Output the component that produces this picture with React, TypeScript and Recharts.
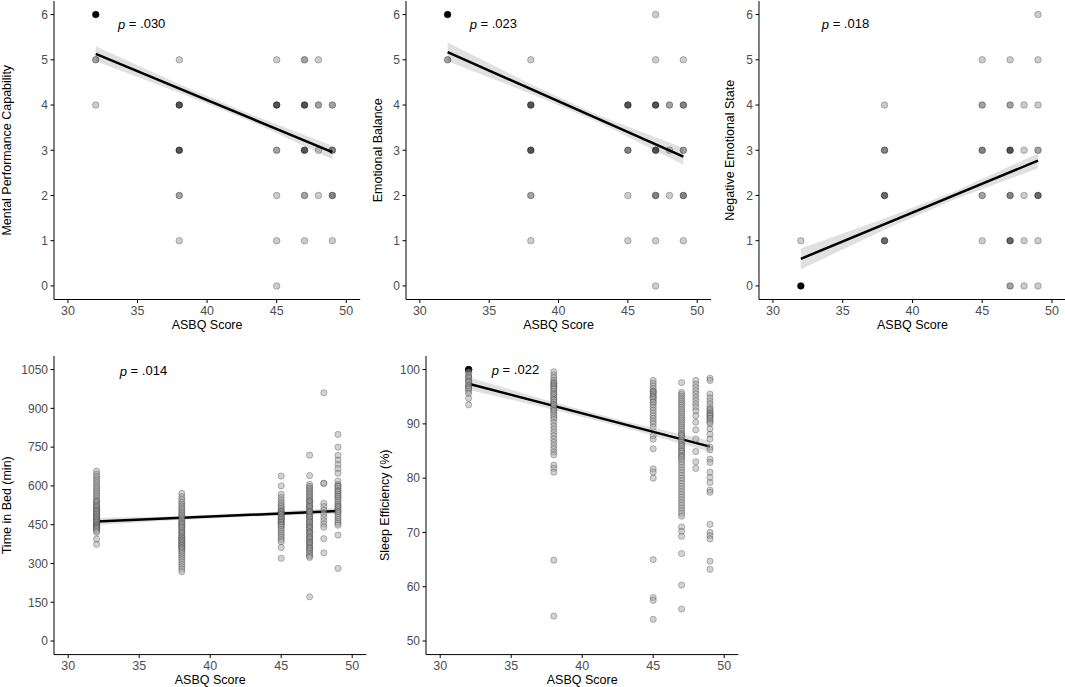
import React from "react";
import { ComposedChart, Scatter, Line, Area, XAxis, YAxis, ReferenceDot } from "recharts";

// ── Axis ticks ────────────────────────────────────────────────────────────────
const ASBQ_TICKS = [30, 35, 40, 45, 50];
const SCORE_TICKS = [0, 1, 2, 3, 4, 5, 6];
const TIB_TICKS = [0, 150, 300, 450, 600, 750, 900, 1050];
const SE_TICKS = [50, 60, 70, 80, 90, 100];

// ── Rating panels: [ASBQ score, rating, overlapping observations] ────────────
const mentalPoints = [
  [32, 6, 20], [32, 5, 2], [32, 4, 1],
  [38, 5, 1], [38, 4, 5], [38, 3, 5], [38, 2, 2], [38, 1, 1],
  [45, 5, 1], [45, 4, 5], [45, 3, 2], [45, 2, 1], [45, 1, 1], [45, 0, 1],
  [47, 5, 2], [47, 4, 5], [47, 3, 5], [47, 2, 2], [47, 1, 1],
  [48, 5, 1], [48, 4, 2], [48, 3, 1], [48, 2, 1],
  [49, 4, 2], [49, 3, 3], [49, 2, 3], [49, 1, 1],
];
const emotionalPoints = [
  [32, 6, 20], [32, 5, 2],
  [38, 5, 1], [38, 4, 5], [38, 3, 5], [38, 2, 2], [38, 1, 1],
  [45, 4, 5], [45, 3, 3], [45, 2, 1], [45, 1, 1],
  [47, 6, 1], [47, 5, 1], [47, 4, 5], [47, 3, 5], [47, 2, 3], [47, 1, 1], [47, 0, 1],
  [48, 4, 2], [48, 3, 1], [48, 2, 1],
  [49, 5, 1], [49, 4, 3], [49, 3, 2], [49, 2, 3], [49, 1, 1],
];
const negativePoints = [
  [32, 1, 1], [32, 0, 20],
  [38, 4, 1], [38, 3, 3], [38, 2, 4], [38, 1, 4],
  [45, 5, 1], [45, 4, 2], [45, 3, 3], [45, 2, 2], [45, 1, 1],
  [47, 5, 1], [47, 4, 2], [47, 3, 5], [47, 2, 3], [47, 1, 4], [47, 0, 2],
  [48, 4, 1], [48, 3, 1], [48, 2, 1], [48, 1, 1], [48, 0, 1],
  [49, 6, 1], [49, 5, 1], [49, 4, 1], [49, 3, 2], [49, 2, 4], [49, 1, 1], [49, 0, 1],
];

// ── Time in bed (min), one value per night ───────────────────────────────────
const tib32 = [657, 645, 636, 628, 620, 612, 603, 595, 588, 580, 572, 565, 558, 550, 543, 540, 537, 530, 524, 520, 518, 512, 506, 505, 500, 500, 495, 490, 490, 485, 480, 480, 475, 470, 470, 465, 460, 460, 455, 450, 450, 445, 445, 440, 440, 435, 435, 430, 425, 420, 394, 374];
const tib38 = [571, 558, 548, 538, 530, 522, 515, 508, 500, 494, 488, 482, 476, 470, 464, 458, 455, 452, 446, 440, 440, 434, 428, 422, 420, 416, 410, 404, 400, 398, 392, 390, 386, 380, 380, 374, 370, 368, 362, 360, 356, 350, 344, 338, 330, 322, 314, 305, 296, 287, 278, 268];
const tib45 = [638, 600, 568, 555, 545, 535, 527, 520, 513, 506, 500, 500, 494, 490, 488, 482, 480, 476, 470, 470, 464, 460, 458, 452, 450, 446, 440, 432, 424, 416, 408, 400, 392, 384, 362, 320];
const tib47 = [719, 640, 606, 598, 592, 586, 580, 574, 568, 562, 556, 550, 544, 540, 538, 532, 526, 520, 520, 514, 508, 502, 500, 496, 490, 484, 480, 478, 472, 466, 460, 460, 454, 448, 442, 440, 436, 430, 424, 420, 418, 412, 406, 400, 400, 394, 388, 382, 380, 376, 370, 364, 360, 358, 352, 346, 340, 334, 328, 323, 171];
const tib48 = [960, 610, 610, 533, 520, 506, 492, 478, 465, 452, 440, 396, 341];
const tib49 = [799, 750, 718, 700, 683, 667, 649, 619, 605, 600, 598, 590, 582, 580, 575, 568, 560, 560, 552, 545, 538, 530, 523, 520, 515, 508, 500, 500, 493, 485, 478, 470, 462, 455, 448, 410, 281];

// ── Sleep efficiency (%), one value per night ────────────────────────────────
const se32 = [100, 100, 100, 100, 100, 100, 100, 100, 100, 100, 100, 100, 99.6, 99.2, 98.8, 98.6, 98.4, 98.0, 97.8, 97.6, 97.2, 97.0, 96.8, 96.6, 96.4, 96.0, 95.6, 94.7, 93.5];
const se38 = [99.6, 99.0, 98.5, 98.0, 97.6, 97.5, 97.2, 97.0, 96.8, 96.5, 96.4, 96.0, 95.6, 95.5, 95.2, 94.8, 94.5, 94.4, 94.0, 93.6, 93.5, 93.2, 92.8, 92.5, 92.4, 92.0, 91.6, 91.2, 90.8, 90.2, 89.6, 89.0, 88.4, 87.8, 87.2, 86.6, 86.0, 85.4, 84.8, 84.3, 82.4, 81.8, 81.1, 64.9, 54.6];
const se45 = [98.0, 97.5, 97.0, 96.5, 96.0, 96.0, 95.8, 95.5, 95.2, 95.0, 94.8, 94.5, 94.0, 94.0, 93.5, 93.0, 92.5, 92.0, 91.5, 91.0, 90.5, 90.0, 89.4, 87.8, 87.2, 85.4, 81.7, 81.1, 80.0, 65.0, 58.0, 57.5, 54.0];
const se47 = [97.6, 95.8, 95.4, 95.0, 94.6, 94.2, 93.8, 93.4, 93.0, 92.6, 92.2, 91.8, 91.4, 91.0, 90.6, 90.2, 89.8, 89.4, 89.0, 88.6, 88.2, 88.0, 87.8, 87.4, 87.0, 86.6, 86.2, 86.0, 85.8, 85.4, 85.0, 85.0, 84.6, 84.2, 84.0, 83.8, 83.4, 83.0, 82.5, 82.0, 81.5, 81.0, 80.5, 80.0, 79.5, 79.0, 78.5, 78.0, 77.5, 77.0, 76.5, 76.0, 75.5, 75.0, 74.5, 74.0, 73.5, 73.0, 71.0, 70.2, 69.3, 66.1, 60.3, 55.9];
const se48 = [98.0, 97.3, 96.7, 96.1, 95.5, 94.9, 94.3, 93.7, 93.1, 92.4, 91.5, 90.3, 88.9, 87.2, 84.9, 83.0, 81.8];
const se49 = [98.4, 98.0, 95.5, 94.8, 94.2, 93.6, 93.0, 92.7, 92.4, 92.0, 92.0, 91.7, 91.5, 91.4, 91.0, 91.0, 90.6, 90.3, 90.0, 89.1, 88.1, 87.2, 85.7, 85.2, 83.5, 82.9, 81.1, 80.1, 79.2, 77.8, 77.4, 71.5, 70.0, 69.4, 68.8, 64.7, 63.2];

// ── Fitted lines (ends at min / max ASBQ) and 95% bands ──────────────────────
const mentalFit = [[32, 5.13], [49, 2.96]];
const mentalBand = [[32, 4.97, 5.3], [38, 4.27, 4.46], [43, 3.66, 3.81], [49, 2.8, 3.1]];
const emotionalFit = [[32, 5.17], [49, 2.86]];
const emotionalBand = [[32, 4.97, 5.38], [38, 4.25, 4.46], [43, 3.6, 3.76], [49, 2.68, 3.05]];
const negativeFit = [[32, 0.6], [49, 2.77]];
const negativeBand = [[32, 0.37, 0.83], [38, 1.24, 1.49], [43, 1.91, 2.09], [49, 2.6, 2.93]];
const tibFit = [[32, 462], [49, 503]];
const tibBand = [[32, 449, 476], [38, 469, 484], [43, 482, 495], [49, 492, 515]];
const seFit = [[32, 97.4], [49, 85.8]];
const seBand = [[32, 96.3, 98.6], [38, 92.6, 94.0], [43, 89.3, 90.5], [49, 84.8, 86.9]];

// ── helpers ───────────────────────────────────────────────────────────────────
type Pt = { x: number; y: number; n: number };

const fromCounts = (rows: number[][]): Pt[] => rows.map(([x, y, n]) => ({ x, y, n }));
const fromColumns = (cols: [number, number[]][]): Pt[] =>
  cols.flatMap(([x, vals]) => vals.map((y) => ({ x, y, n: 1 })));
const toLine = (rows: number[][]) => rows.map(([x, y]) => ({ x, y }));
const toBand = (rows: number[][]) => rows.map(([x, lo, hi]) => ({ x, band: [lo, hi] }));

const tibPoints = fromColumns([[32, tib32], [38, tib38], [45, tib45], [47, tib47], [48, tib48], [49, tib49]]);
const sePoints = fromColumns([[32, se32], [38, se38], [45, se45], [47, se47], [48, se48], [49, se49]]);

// rating panels: shade darkens with the number of stacked observations
const countDot = (props: any) => {
  const { cx, cy, payload } = props;
  const a = 1 - Math.pow(0.8, payload.n);
  return (
    <circle
      cx={cx}
      cy={cy}
      r={3.3}
      fill="#000"
      fillOpacity={a}
      stroke="#000"
      strokeOpacity={Math.min(1, a + 0.22)}
      strokeWidth={0.6}
    />
  );
};

// nightly panels: semi-transparent grey disc with darker rim
const nightDot = (props: any) => {
  const { cx, cy, payload } = props;
  const solid = payload.y === 100;
  return (
    <circle
      cx={cx}
      cy={cy}
      r={3.1}
      fill={solid ? "#000" : "#a8a8a8"}
      fillOpacity={solid ? 0.35 : 0.5}
      stroke="#222"
      strokeOpacity={0.5}
      strokeWidth={0.6}
    />
  );
};

interface PanelProps {
  plotLeft: number;
  plotTop: number;
  plotW: number;
  plotH: number;
  yDomain: [number, number];
  yTicks: number[];
  yTitle: string;
  titleX: number;
  pText: string;
  pX: number;
  pY: number;
  points: Pt[];
  fit: number[][];
  band: number[][];
  dot: (props: any) => React.ReactElement;
}

const PAD_L = 56;
const PAD_R = 10;
const PAD_T = 6;
const PAD_B = 44;

function Panel(p: PanelProps) {
  const w = PAD_L + p.plotW + PAD_R;
  const h = PAD_T + p.plotH + PAD_B;
  const chartLeft = p.plotLeft - PAD_L;
  const chartTop = p.plotTop - PAD_T;
  const titleLocalX = p.titleX - chartLeft;
  const titleLocalY = PAD_T + p.plotH / 2;

  return (
    <div style={{ position: "absolute", left: chartLeft, top: chartTop }}>
      <ComposedChart width={w} height={h} margin={{ top: PAD_T, right: PAD_R, bottom: 0, left: 0 }}>
        <XAxis
          type="number"
          dataKey="x"
          domain={[29, 51]}
          ticks={ASBQ_TICKS}
          allowDataOverflow
          height={PAD_B}
          stroke="#000"
          tickSize={3.5}
          tickMargin={3.5}
          tick={{ fill: "#4d4d4d", fontSize: 12.5 }}
          label={{ value: "ASBQ Score", position: "insideBottom", offset: 14.5, fill: "#000", fontSize: 12.5 }}
        />
        <YAxis
          type="number"
          domain={p.yDomain}
          ticks={p.yTicks}
          allowDataOverflow
          width={PAD_L}
          stroke="#000"
          tickSize={3.5}
          tickMargin={2.5}
          tick={{ fill: "#4d4d4d", fontSize: 12 }}
          label={{
            content: () => (
              <text
                x={titleLocalX}
                y={titleLocalY}
                transform={`rotate(-90 ${titleLocalX} ${titleLocalY})`}
                textAnchor="middle"
                dominantBaseline="central"
                fontSize={12.5}
                fill="#000"
              >
                {p.yTitle}
              </text>
            ),
          }}
        />
        <Scatter data={p.points} dataKey="y" shape={p.dot} isAnimationActive={false} />
        <Area
          data={toBand(p.band)}
          dataKey="band"
          type="linear"
          fill="#999"
          fillOpacity={0.3}
          stroke="none"
          isAnimationActive={false}
        />
        <Line
          data={toLine(p.fit)}
          dataKey="y"
          type="linear"
          stroke="#000"
          strokeWidth={2.5}
          dot={false}
          isAnimationActive={false}
        />
        <ReferenceDot
          x={p.pX}
          y={p.pY}
          r={0}
          fill="none"
          stroke="none"
          label={{
            content: (lp: any) => (
              <text
                x={lp.viewBox.x}
                y={lp.viewBox.y}
                textAnchor="middle"
                dominantBaseline="central"
                fontSize={13}
                fill="#000"
              >
                <tspan fontStyle="italic">p</tspan> = {p.pText}
              </text>
            ),
          }}
        />
      </ComposedChart>
    </div>
  );
}

export default function App() {
  return (
    <div
      style={{
        position: "absolute",
        left: 0,
        top: 0,
        width: 1065,
        height: 687,
        overflow: "hidden",
        background: "#fff",
        fontFamily: "'Liberation Sans', Arial, sans-serif",
      }}
    >
      <Panel
        plotLeft={54.4} plotTop={0.8} plotW={306.2} plotH={298.5}
        yDomain={[-0.3, 6.3]} yTicks={SCORE_TICKS}
        yTitle="Mental Performance Capability" titleX={7}
        pText=".030" pX={35.3} pY={5.8}
        points={fromCounts(mentalPoints)} fit={mentalFit} band={mentalBand} dot={countDot}
      />
      <Panel
        plotLeft={406.1} plotTop={0.8} plotW={305.1} plotH={298.5}
        yDomain={[-0.3, 6.3]} yTicks={SCORE_TICKS}
        yTitle="Emotional Balance" titleX={378}
        pText=".023" pX={35.3} pY={5.8}
        points={fromCounts(emotionalPoints)} fit={emotionalFit} band={emotionalBand} dot={countDot}
      />
      <Panel
        plotLeft={758.7} plotTop={0.8} plotW={306.9} plotH={298.5}
        yDomain={[-0.3, 6.3]} yTicks={SCORE_TICKS}
        yTitle="Negative Emotional State" titleX={730}
        pText=".018" pX={35.2} pY={5.8}
        points={fromCounts(negativePoints)} fit={negativeFit} band={negativeBand} dot={countDot}
      />
      <Panel
        plotLeft={54.1} plotTop={356.4} plotW={312.4} plotH={298.6}
        yDomain={[-52.5, 1102.5]} yTicks={TIB_TICKS}
        yTitle="Time in Bed (min)" titleX={7.5}
        pText=".014" pX={35.3} pY={1046}
        points={tibPoints} fit={tibFit} band={tibBand} dot={nightDot}
      />
      <Panel
        plotLeft={425.8} plotTop={356.4} plotW={312.4} plotH={298.6}
        yDomain={[47.5, 102.5]} yTicks={SE_TICKS}
        yTitle="Sleep Efficiency (%)" titleX={385}
        pText=".022" pX={35.3} pY={100}
        points={sePoints} fit={seFit} band={seBand} dot={nightDot}
      />
    </div>
  );
}
